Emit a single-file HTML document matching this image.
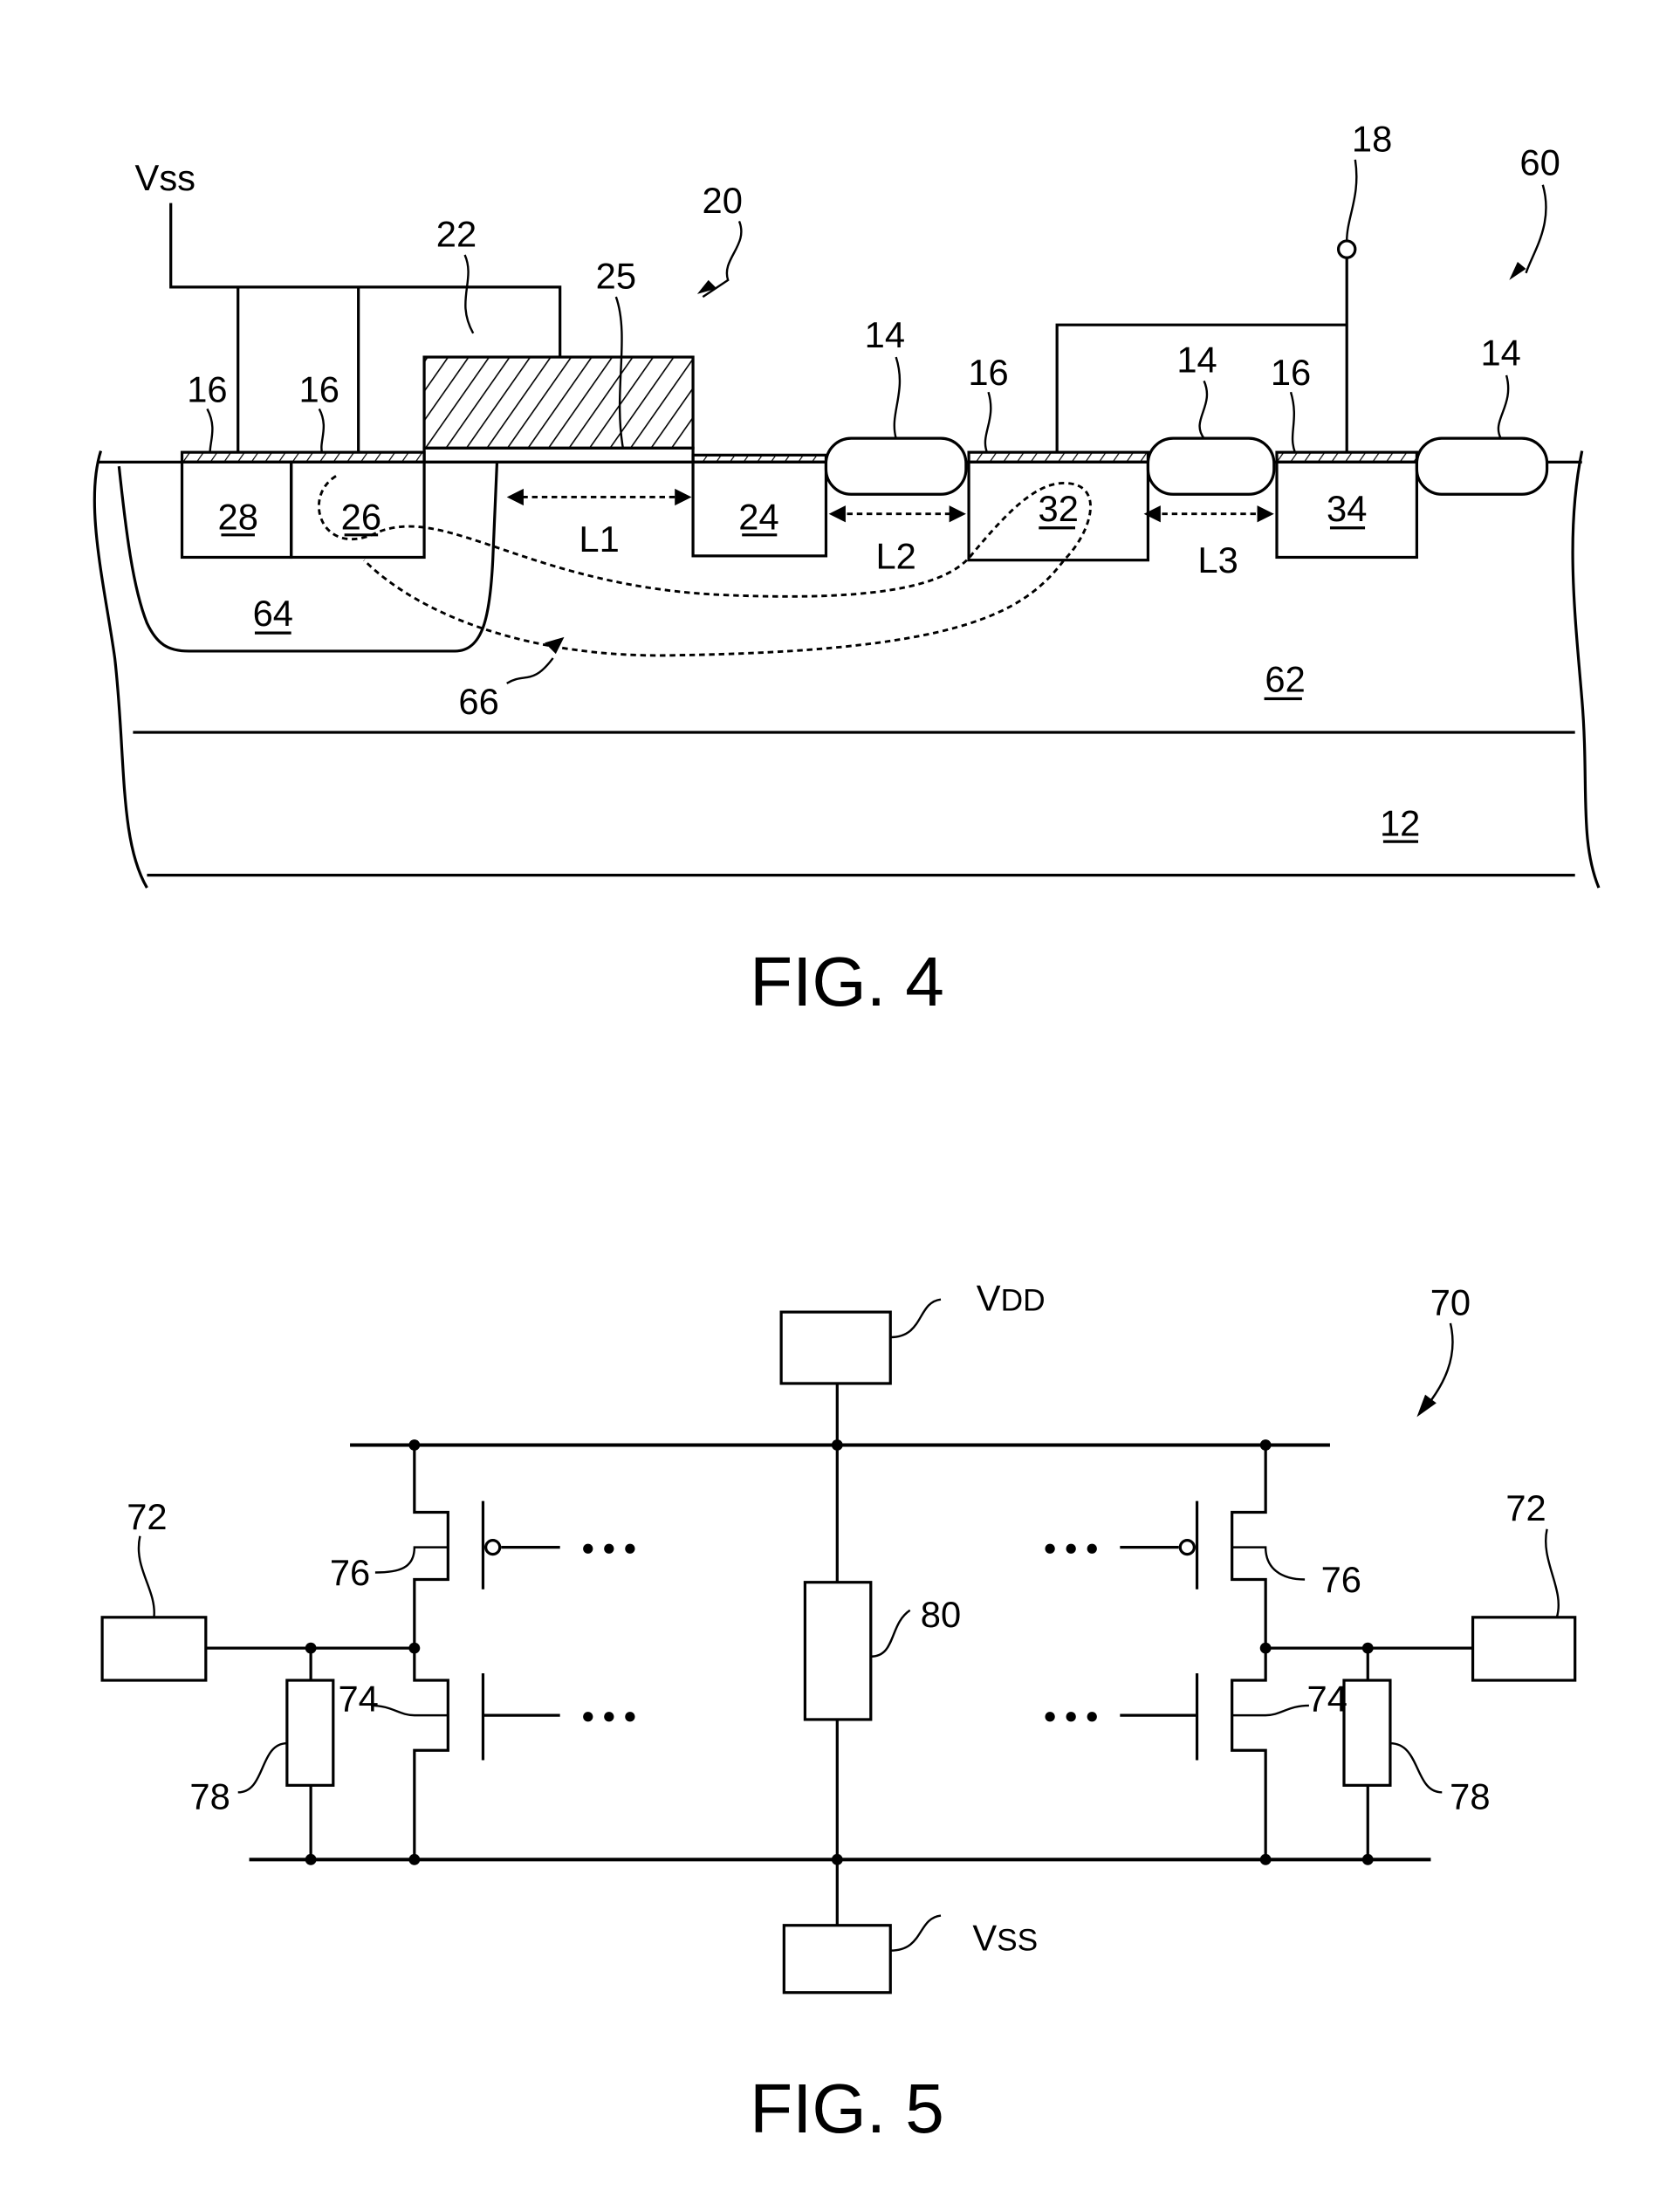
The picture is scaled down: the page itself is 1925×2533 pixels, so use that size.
<!DOCTYPE html>
<html><head><style>html,body{margin:0;padding:0;background:#fff}svg{display:block}</style></head><body>
<svg width="1925" height="2533" viewBox="0 0 1200 1579" preserveAspectRatio="none" xmlns="http://www.w3.org/2000/svg" font-family="Liberation Sans, sans-serif" fill="none" stroke="#000" stroke-width="2">
<defs>
<pattern id="h" width="12" height="12" patternUnits="userSpaceOnUse" patternTransform="rotate(35)"><line x1="0" y1="0" x2="0" y2="12" stroke="#000" stroke-width="2"/></pattern>
<pattern id="h2" width="8" height="8" patternUnits="userSpaceOnUse" patternTransform="rotate(35)"><line x1="0" y1="0" x2="0" y2="8" stroke="#000" stroke-width="1.5"/></pattern>
</defs>
<!-- FIG 4 -->
<path d="M122 145V205H400V255M170 205V323M256 205V323"/>
<rect x="303" y="255" width="192" height="65" fill="url(#h)"/>
<rect x="303" y="320" width="192" height="10"/>
<path d="M70 330H1130"/>
<path d="M72 322C60 360 75 420 82 470C90 540 85 600 105 634"/>
<path d="M1130 322C1118 380 1125 440 1130 500C1135 560 1128 600 1142 634"/>
<path d="M95 523H1125M105 625H1125"/>
<rect x="130" y="323" width="173" height="7" fill="url(#h2)"/>
<rect x="130" y="330" width="78" height="68"/><rect x="208" y="330" width="95" height="68"/>
<path d="M85 333C90 380 95 420 105 445C112 460 120 465 135 465H325C345 465 350 440 352 400L355 330"/>
<rect x="495" y="325" width="95" height="5" fill="url(#h2)"/>
<rect x="495" y="330" width="95" height="67"/>
<rect x="692" y="323" width="128" height="7" fill="url(#h2)"/>
<rect x="692" y="330" width="128" height="70"/>
<rect x="912" y="323" width="100" height="7" fill="url(#h2)"/>
<rect x="912" y="330" width="100" height="68"/>
<rect x="590" y="313" width="100" height="40" rx="18" fill="#fff"/>
<rect x="820" y="313" width="90" height="40" rx="18" fill="#fff"/>
<rect x="1012" y="313" width="93" height="40" rx="18" fill="#fff"/>
<path d="M755 323V232H962V323M962 232V184"/>
<circle cx="962" cy="178" r="6" fill="#fff"/>
<g stroke-dasharray="4 3" stroke-width="1.8">
<path d="M366 355H490M598 367H686M823 367H906"/>
<path d="M240 340C215 355 230 400 270 380C320 360 380 420 520 425C640 430 680 415 695 395C720 365 740 345 760 345C790 345 780 380 760 400C730 440 680 465 480 468C380 470 300 440 260 400"/>
</g>
<g fill="#000" stroke="none">
<path d="M362 355l12-6v12zM494 355l-12-6v12zM592 367l12-6v12zM690 367l-12-6v12zM817 367l12-6v12zM910 367l-12-6v12z"/>
<path d="M403 455l-14 4 8 8z"/>
<path d="M498 210l14-4-6-6z"/>
<path d="M1078 200l12-8-6-5z"/>
</g>
<g stroke-width="1.5">
<path d="M332 182C340 200 325 215 338 238M440 212C450 240 438 280 445 320M528 158C535 175 515 185 520 200L502 212M640 255C648 280 635 295 640 313M860 272C868 290 850 300 860 313M1076 268C1082 290 1065 300 1072 313M148 292C155 305 150 315 150 323M228 292C235 305 228 315 230 323M706 280C712 300 700 310 705 323M922 280C928 300 920 310 925 323M968 114C972 140 962 155 962 172M1102 132C1110 160 1095 180 1090 195M362 488C375 480 380 490 395 470"/>
</g>
<g fill="#000" stroke="none" font-size="26" text-anchor="middle">
<text x="118" y="136">Vss</text><text x="326" y="176">22</text><text x="440" y="206">25</text><text x="516" y="152">20</text>
<text x="632" y="248">14</text><text x="855" y="266">14</text><text x="1072" y="261">14</text>
<text x="148" y="287">16</text><text x="228" y="287">16</text><text x="706" y="275">16</text><text x="922" y="275">16</text>
<text x="980" y="108">18</text><text x="1100" y="125">60</text>
<text x="170" y="378">28</text><text x="258" y="378">26</text><text x="542" y="378">24</text><text x="756" y="372">32</text><text x="962" y="372">34</text>
<text x="195" y="447">64</text><text x="918" y="494">62</text><text x="1000" y="597">12</text><text x="342" y="510">66</text>
<text x="428" y="394">L1</text><text x="640" y="406">L2</text><text x="870" y="409">L3</text>
<text x="605" y="718" font-size="50">FIG. 4</text>
</g>
<g stroke-width="2">
<path d="M158 382H182M246 382H270M530 382H555M742 377H768M950 377H975M182 452H208M903 499H930M988 601H1013"/>
</g>
<!-- FIG 5 -->
<rect x="558" y="937" width="78" height="51"/><rect x="560" y="1375" width="76" height="48"/>
<rect x="575" y="1130" width="47" height="98"/>
<rect x="73" y="1155" width="74" height="45"/><rect x="1052" y="1155" width="73" height="45"/>
<rect x="205" y="1200" width="33" height="75"/><rect x="960" y="1200" width="33" height="75"/>
<path d="M250 1032H950M178 1328H1022" stroke-width="2.5"/>
<path d="M598 988V1130M598 1228V1375"/>
<path d="M296 1032V1080H320V1128H296V1200H320V1250H296V1328M147 1177H296M222 1177V1200M222 1275V1328"/>
<path d="M904 1032V1080H880V1128H904V1200H880V1250H904V1328M1052 1177H904M977 1177V1200M977 1275V1328"/>
<path d="M345 1072V1135M358 1105H400M345 1195V1257M345 1225H400"/>
<path d="M855 1072V1135M842 1105H800M855 1195V1257M855 1225H800"/>
<circle cx="352" cy="1105" r="5" fill="#fff"/><circle cx="848" cy="1105" r="5" fill="#fff"/>
<g fill="#000" stroke="none">
<circle cx="296" cy="1032" r="4"/><circle cx="598" cy="1032" r="4"/><circle cx="904" cy="1032" r="4"/>
<circle cx="222" cy="1328" r="4"/><circle cx="296" cy="1328" r="4"/><circle cx="598" cy="1328" r="4"/><circle cx="904" cy="1328" r="4"/><circle cx="977" cy="1328" r="4"/>
<circle cx="222" cy="1177" r="4"/><circle cx="296" cy="1177" r="4"/><circle cx="904" cy="1177" r="4"/><circle cx="977" cy="1177" r="4"/>
<circle cx="420" cy="1106" r="3.5"/><circle cx="435" cy="1106" r="3.5"/><circle cx="450" cy="1106" r="3.5"/>
<circle cx="420" cy="1226" r="3.5"/><circle cx="435" cy="1226" r="3.5"/><circle cx="450" cy="1226" r="3.5"/>
<circle cx="750" cy="1106" r="3.5"/><circle cx="765" cy="1106" r="3.5"/><circle cx="780" cy="1106" r="3.5"/>
<circle cx="750" cy="1226" r="3.5"/><circle cx="765" cy="1226" r="3.5"/><circle cx="780" cy="1226" r="3.5"/>
<path d="M1012 1012l6-16 8 6z"/>
</g>
<g stroke-width="1.5">
<path d="M636 955C660 955 655 930 672 928M636 1393C660 1393 655 1370 672 1368M622 1183C640 1183 635 1160 650 1150M100 1097C95 1120 112 1135 110 1155M1105 1092C1100 1115 1118 1135 1112 1155M268 1123C285 1123 296 1120 296 1105C305 1105 315 1105 320 1105M932 1128C915 1128 904 1120 904 1105H880M265 1218C280 1218 285 1225 296 1225H320M935 1218C920 1218 915 1225 904 1225H880M170 1280C190 1280 185 1245 205 1245M1030 1280C1010 1280 1015 1245 993 1245M1036 945C1042 970 1030 990 1020 1003"/>
</g>
<g fill="#000" stroke="none" font-size="26" text-anchor="middle">
<text x="722" y="936">V<tspan font-size="22">DD</tspan></text>
<text x="718" y="1393">V<tspan font-size="22">SS</tspan></text>
<text x="1036" y="939">70</text><text x="105" y="1092">72</text><text x="1090" y="1086">72</text>
<text x="250" y="1132">76</text><text x="958" y="1137">76</text><text x="672" y="1162">80</text>
<text x="256" y="1222">74</text><text x="948" y="1222">74</text><text x="150" y="1292">78</text><text x="1050" y="1292">78</text>
<text x="605" y="1523" font-size="50">FIG. 5</text>
</g>
</svg>
</body></html>
